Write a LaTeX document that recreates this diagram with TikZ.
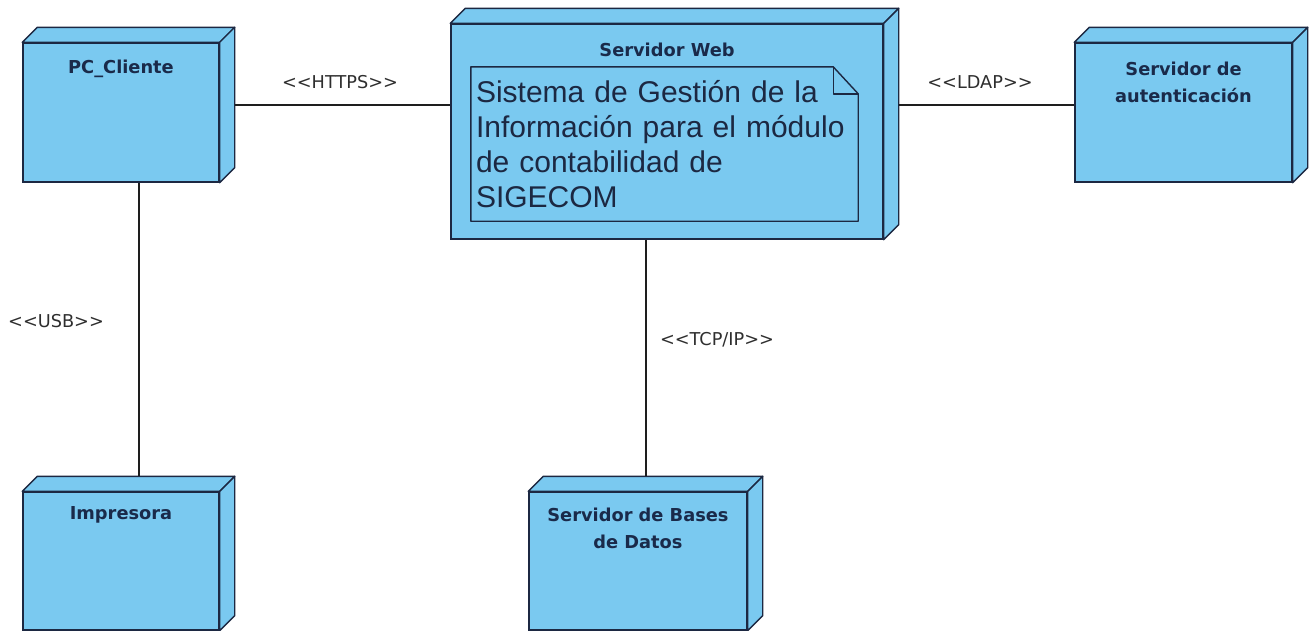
\documentclass[tikz,border=0pt]{standalone}
\usepackage{fontspec}
\setmainfont{Liberation Sans}
\newfontfamily\labelfont{DejaVu Sans}
\usetikzlibrary{calc,positioning}
\definecolor{boxfill}{RGB}{122,201,240}
\definecolor{boxline}{RGB}{28,40,66}
\definecolor{titlecol}{RGB}{26,42,74}
\definecolor{linkcol}{RGB}{30,30,30}

\begin{document}
\begin{tikzpicture}[x=1pt, y=-1pt,
    nodebox/.style={draw=boxline, fill=boxfill, line width=1.4pt, inner sep=0pt},
    face/.style={draw=boxline, fill=boxfill, line width=1.4pt, line join=round},
    title/.style={font=\labelfont\bfseries\fontsize{17.8}{27.5}\selectfont, text=titlecol, align=center, inner sep=0pt},
    notebox/.style={font=\fontsize{30}{35}\selectfont, text=boxline, align=left, inner xsep=5pt, inner ysep=0pt},
    link/.style={draw=linkcol, line width=1.2pt},
    stereo/.style={font=\labelfont\fontsize{17.7}{20}\selectfont, text=black!82, inner sep=0pt}]
    \useasboundingbox (0,0) rectangle (1312,630);% Page as large as the reference

    \node[nodebox, minimum width=196pt, minimum height=139pt] (pc)   at (121,112.5) {};
    \node[nodebox, minimum width=432pt, minimum height=215pt] (web)  at (667,131.5) {};
    \node[nodebox, minimum width=217pt, minimum height=139pt] (auth) at (1183.5,112.5) {};
    \node[nodebox, minimum width=196pt, minimum height=138pt] (prn)  at (121,561) {};
    \node[nodebox, minimum width=218pt, minimum height=138pt] (db)   at (638,561) {};
    \foreach \n in {pc,web,auth,prn,db}{% Top and right faces of each box
      \filldraw[face] (\n.north west) -- ++(15,-15) -- ($(\n.north east)+(15,-15)$) -- (\n.north east) -- cycle;
      \filldraw[face] (\n.north east) -- ++(15,-15) -- ($(\n.south east)+(15,-15)$) -- (\n.south east) -- cycle;
    }

    \node[title, below=17pt of pc.north]   (pc title)   {PC\_Cliente};
    \node[title, below=19pt of web.north]  (web title)  {Servidor Web};
    \node[title, below=19pt of auth.north] (auth title) {Servidor de\\autenticación};
    \node[title, below=15pt of prn.north]  (prn title)  {Impresora};
    \node[title, below=16pt of db.north]   (db title)   {Servidor de Bases\\de Datos};

    \node[notebox, text width=377pt, minimum height=154pt] (note) at (664.5,144)
      {Sistema de Gestión de la\\Información para el módulo\\de contabilidad de\\SIGECOM};
    \draw[face, fill=none] (note.north west) -- ($(note.north east)+(-25,0)$) -- ($(note.north east)+(0,27)$)
      -- (note.south east) -- (note.south west) -- cycle;% Note with folded corner
    \draw[face, fill=none] ($(note.north east)+(-25,0)$) -- ++(0,27) -- ++(25,0);

    \coordinate (https end) at ($(pc.east)+(15,-7.5)$);
    \coordinate (ldap end)  at ($(auth.west)+(0,-7.5)$);
    \coordinate (usb end)   at ($(pc.south)+(18,0)$);
    \coordinate (tcp end)   at ($(web.south)+(-21,0)$);
    \draw[link] (https end) -- (https end -| web.west);
    \draw[link] (ldap end) -- ($(ldap end -| web.east)+(15,0)$);
    \draw[link] (usb end) -- ($(usb end |- prn.north)+(0,-15)$);
    \draw[link] (tcp end) -- ($(tcp end |- db.north)+(0,-15)$);

    \node[stereo] (https) at (340,82)  {<<HTTPS>>};
    \node[stereo] (ldap)  at (980,82)  {<<LDAP>>};
    \node[stereo] (usb)   at (56,321)  {<<USB>>};
    \node[stereo] (tcp)   at (717,340) {<<TCP/IP>>};
\end{tikzpicture}
\end{document}
